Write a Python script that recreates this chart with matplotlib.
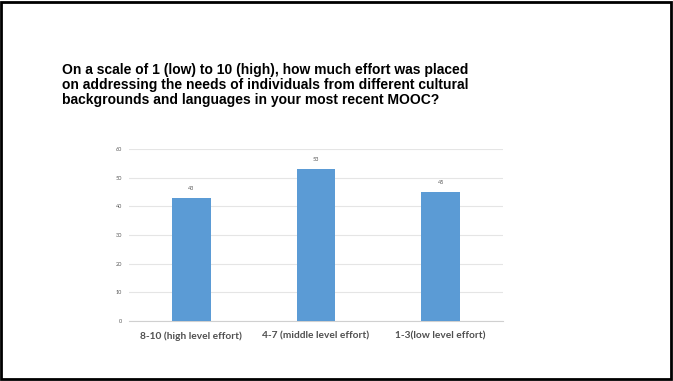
import matplotlib
matplotlib.use("Agg")
import matplotlib.pyplot as plt
from matplotlib.patches import Rectangle
from matplotlib import font_manager

categories = ["8-10 (high level effort)", "4-7 (middle level effort)", "1-3(low level effort)"]
values = [43, 53, 45]
yticks = [0, 10, 20, 30, 40, 50, 60]
title = ("On a scale of 1 (low) to 10 (high), how much effort was placed\n"
         "on addressing the needs of individuals from different cultural\n"
         "backgrounds and languages in your most recent MOOC?")

names = {f.name for f in font_manager.fontManager.ttflist}
title_font = "Liberation Sans Narrow" if "Liberation Sans Narrow" in names else "Liberation Sans"
title_size = 12.45 if title_font == "Liberation Sans Narrow" else 10

W, H = 673, 381
fig = plt.figure(figsize=(W/100, H/100), dpi=100)
fig.patches.append(Rectangle((0.002, 0.004), 0.995, 0.992, transform=fig.transFigure,
                             fill=False, edgecolor="black", linewidth=2))

ax = fig.add_axes([129/W, 1-321/H, (503-129)/W, (321-149)/H])
x = list(range(len(categories)))
bars = ax.bar(x, values, width=0.31, color="#5B9BD5", zorder=3)
ax.set_xlim(-0.5, 2.5)
ax.set_ylim(0, 60)
ax.set_yticks(yticks)
ax.set_yticklabels([str(t) for t in yticks], fontsize=4, color="#595959", family="Lato")
ax.tick_params(axis="y", length=0, pad=5)
ax.tick_params(axis="x", length=0, pad=7.5)
ax.set_xticks(x)
ax.set_xticklabels(categories, fontsize=7.3, color="#505050", family="Lato", fontweight="bold")
ax.grid(axis="y", color="#E5E5E5", linewidth=0.8, zorder=0)
for s in ["top", "right", "left"]:
    ax.spines[s].set_visible(False)
ax.spines["bottom"].set_color("#D0D0D0")
ax.spines["bottom"].set_linewidth(0.8)
for b, v in zip(bars, values):
    ax.annotate(str(v), (b.get_x() + b.get_width()/2, v), xytext=(0, 5), textcoords="offset points",
                ha="center", va="bottom", fontsize=4, color="#595959", family="Lato")

fig.text(62/W, 1-63/H, title, ha="left", va="top", fontsize=title_size, fontweight="bold",
         family=title_font, linespacing=1.08, color="black")

fig.savefig("out.png", dpi=100)
